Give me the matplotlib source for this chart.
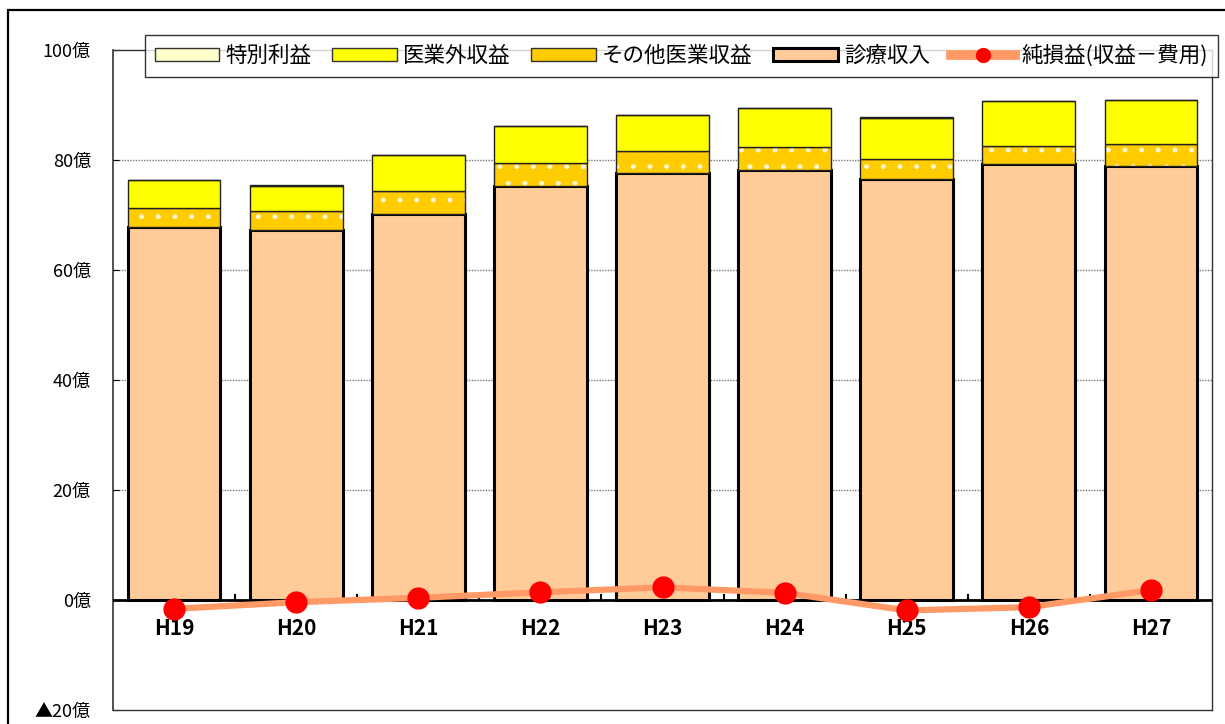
import matplotlib
matplotlib.use("Agg")
import matplotlib.pyplot as plt
from matplotlib.patches import Patch, Rectangle
from matplotlib.lines import Line2D
import numpy as np

plt.rcParams['font.family'] = ['Noto Sans CJK JP', 'DejaVu Sans']
plt.rcParams['hatch.linewidth'] = 1.2

categories = ["H19", "H20", "H21", "H22", "H23", "H24", "H25", "H26", "H27"]
shinryo = [67.8, 67.3, 70.2, 75.3, 77.6, 78.2, 76.5, 79.3, 79.0]          # 診療収入
sonota = [3.5, 3.4, 4.2, 4.2, 4.1, 4.2, 3.7, 3.2, 3.85]                   # その他医業収益
igyogai = [5.0, 4.6, 6.6, 6.6, 6.5, 7.0, 7.4, 8.2, 8.0]                   # 医業外収益
tokubetsu = [0.0, 0.2, 0.0, 0.0, 0.0, 0.0, 0.3, 0.0, 0.0]                 # 特別利益
junsoneki = [-1.6, -0.4, 0.4, 1.4, 2.3, 1.3, -1.9, -1.3, 1.8]            # 純損益
ytick_vals = [-20, 0, 20, 40, 60, 80, 100]
ytick_labels = ["▲20億", "0億", "20億", "40億", "60億", "80億", "100億"]

W, H = 1225, 724
fig = plt.figure(figsize=(W / 100, H / 100), dpi=100)
fig.patches.append(Rectangle((8 / W, -0.05), 1.2, 1 - 10 / H + 0.05, transform=fig.transFigure,
                             fill=False, edgecolor='black', linewidth=1.6))
ax = fig.add_axes([113 / W, 1 - 710 / H, (1212 - 113) / W, (710 - 50) / H])

x = np.arange(len(categories))
bw = 0.76
c_shin, c_sono, c_gai, c_tok = "#FFCC99", "#FFCC00", "#FFFF00", "#FFFFCC"

b1 = np.array(shinryo)
b2 = b1 + np.array(sonota)
b3 = b2 + np.array(igyogai)

ax.bar(x, shinryo, bw, color=c_shin, edgecolor='black', linewidth=2.2, zorder=3)
ax.bar(x, sonota, bw, bottom=b1, color=c_sono, edgecolor='#FFF4D0', hatch='.', linewidth=0, zorder=3)
ax.bar(x, sonota, bw, bottom=b1, fill=False, edgecolor='#222222', linewidth=1.0, zorder=3)
ax.bar(x, igyogai, bw, bottom=b2, color=c_gai, edgecolor='#222222', linewidth=1.0, zorder=3)
ax.bar(x, tokubetsu, bw, bottom=b3, color=c_tok, edgecolor='#222222', linewidth=1.0, zorder=3)

ax.plot(x, junsoneki, color="#FF9966", linewidth=4.5, zorder=5,
        marker='o', markersize=15, markerfacecolor='red', markeredgecolor='red', clip_on=False)

ax.set_xlim(-0.5, len(categories) - 0.5)
ax.set_ylim(-20, 100)
ax.set_yticks(ytick_vals)
ax.set_yticklabels(ytick_labels, fontsize=13)
ax.tick_params(axis='y', direction='in', length=4, pad=16)

for yv in [20, 40, 60, 80]:
    ax.axhline(yv, color='#777777', linestyle=(0, (1, 1)), linewidth=1.0, zorder=1)
ax.axhline(0, color='black', linewidth=2.0, zorder=4)

ax.set_xticks(x)
ax.set_xticklabels([])
ax.tick_params(axis='x', which='both', length=0)
for xi, lab in zip(x, categories):
    ax.text(xi, -3.3, lab, ha='center', va='top', fontsize=15, fontweight='bold')
for xb in np.arange(0.5, len(categories) - 0.5):
    ax.plot([xb, xb], [0, 1.0], color='black', linewidth=1.5, zorder=4)

for s in ['left', 'right', 'top', 'bottom']:
    ax.spines[s].set_linewidth(1.0)
    ax.spines[s].set_color('#333333')
ax.spines['left'].set_linewidth(1.2)

handles = [
    Patch(facecolor=c_tok, edgecolor='#333333', linewidth=1.0),
    Patch(facecolor=c_gai, edgecolor='#333333', linewidth=1.0),
    Patch(facecolor=c_sono, edgecolor='#333333', linewidth=1.0),
    Patch(facecolor=c_shin, edgecolor='black', linewidth=2.2),
    Line2D([0], [0], color="#FF9966", linewidth=7, marker='o', markersize=10,
           markerfacecolor='red', markeredgecolor='red'),
]
labels = ["特別利益", "医業外収益", "その他医業収益", "診療収入", "純損益(収益－費用)"]
leg = fig.legend(handles, labels, ncol=5, loc='upper left',
                 bbox_to_anchor=(145 / W, 1 - 81 / H, (1218 - 145) / W, 46 / H),
                 mode='expand', bbox_transform=fig.transFigure, fontsize=15.5, frameon=True,
                 fancybox=False, edgecolor='black', handlelength=3.0, handleheight=0.55,
                 columnspacing=1.0, handletextpad=0.3, borderpad=0.45, borderaxespad=0)
leg.get_frame().set_linewidth(1.0)
leg.set_zorder(10)

fig.savefig("out.png", dpi=100)
